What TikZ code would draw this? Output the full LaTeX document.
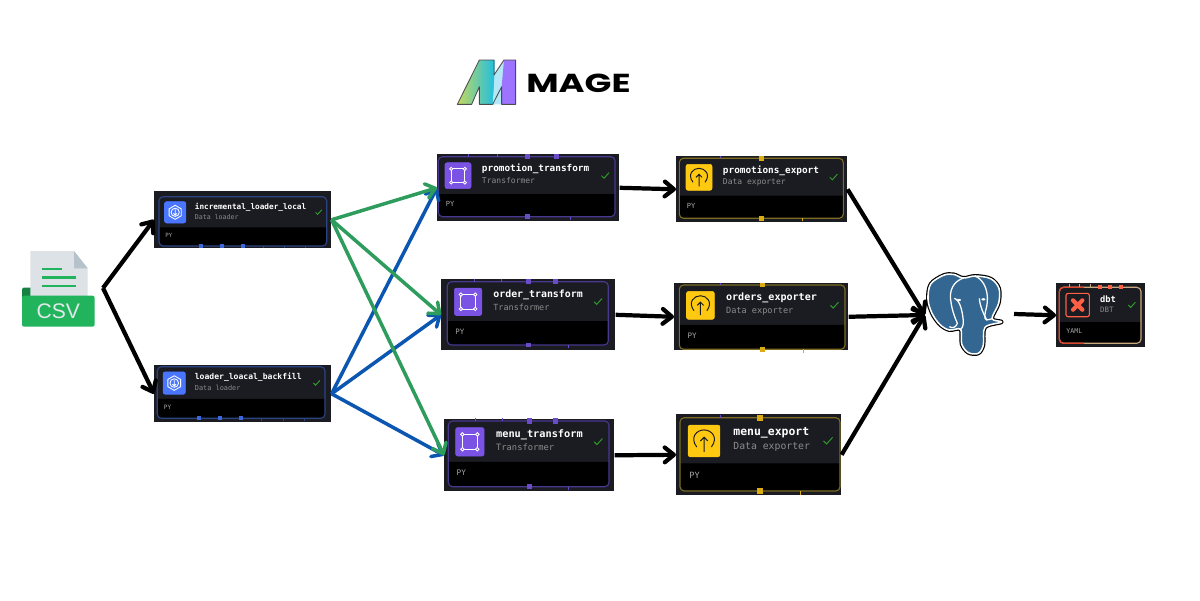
\documentclass[tikz,border=0pt]{standalone}
\usepackage{fontspec}
\usepackage{tikz}
\usepackage{xcolor}
\usetikzlibrary{arrows.meta}
\newfontfamily\blockfont{DejaVu Sans Mono}
\newfontfamily\csvfont{Liberation Sans}
\newfontfamily\magefont{Poppins}

\definecolor{framedark}{HTML}{1B1B22}
\definecolor{loaderline}{HTML}{2C4484}
\definecolor{loaderfill}{HTML}{4A76FF}
\definecolor{loaderport}{HTML}{3F66D8}
\definecolor{transformerline}{HTML}{48388E}
\definecolor{transformerfill}{HTML}{7A52E4}
\definecolor{transformerport}{HTML}{6A4BC8}
\definecolor{exporterline}{HTML}{7D6C22}
\definecolor{exporterfill}{HTML}{FFC912}
\definecolor{exporterport}{HTML}{D9AC14}
\definecolor{dbtline}{HTML}{C9A882}
\definecolor{dbtfill}{HTML}{1B1B22}
\definecolor{dbtport}{HTML}{FF5F45}
\definecolor{dbtred}{HTML}{E0432A}
\definecolor{okgreen}{HTML}{2F9A2A}
\definecolor{csvgreen}{HTML}{22B45C}
\definecolor{csvdark}{HTML}{178043}
\definecolor{paper}{HTML}{DCE2E6}
\definecolor{paperfold}{HTML}{B6C2CA}
\definecolor{csvtext}{HTML}{E2E8EA}
\definecolor{pgblue}{HTML}{336791}
\definecolor{arrowgreen}{HTML}{2E9C5C}
\definecolor{arrowblue}{HTML}{0A56B0}
\definecolor{logolime}{HTML}{C6D85E}
\definecolor{logoteal}{HTML}{1FBFE0}
\definecolor{logopale}{HTML}{B4E8F6}
\definecolor{logoviolet}{HTML}{9C74FF}

\tikzset{
    >={Straight Barb[length=6.5pt, width=10.5pt, round]},
    flow/.style={->, line width=3pt},
    greenflow/.style={->, line width=2.5pt, arrowgreen},
    blueflow/.style={->, line width=2.5pt, arrowblue},
    frame/.style={fill=framedark, inner sep=0pt},
    iconbox/.style={rounded corners=1.5pt, minimum size=26*0.025cm, inner sep=0pt},
    titletext/.style={anchor=west, inner sep=0pt, text=white, font=\blockfont\bfseries\fontsize{6.67}{8}\selectfont},
    subtext/.style={anchor=west, inner sep=0pt, text=black!45!white, font=\blockfont\fontsize{5.7}{7}\selectfont},
    langtext/.style={anchor=west, inner sep=0pt, text=black!35!white, font=\blockfont\fontsize{5}{6}\selectfont},
    glyph/.style={line width=0.6pt, white},
}

\newcommand{\mageframe}[5]{
    \node (#1) at (#2,#3) [frame, anchor=north west, minimum width=(#4-#2)*0.025cm, minimum height=(#5-#3)*0.025cm] {};
}

\newcommand{\iconloader}{
    \draw[glyph] (0,-8.5) -- (7.4,-4.2) -- (7.4,4.2) -- (0,8.5) -- (-7.4,4.2) -- (-7.4,-4.2) -- cycle;
    \draw[glyph] (0,0) circle (5);
    \draw[glyph] (0,-3.5) -- (0,3.5) (-2.2,1.3) -- (0,3.5) -- (2.2,1.3);
}
\newcommand{\icontransformer}{
    \draw[glyph] (-6.8,-6.8) rectangle (6.8,6.8);
    \foreach \cx/\cy in {-6.8/-6.8, 6.8/-6.8, 6.8/6.8, -6.8/6.8}
        \filldraw[glyph, fill=transformerfill] (\cx,\cy) circle (1.6);
}
\newcommand{\iconexporter}{
    \draw[line width=0.7pt, framedark] (-6,5) .. controls (-12,-3) and (-6,-9) .. (0,-9) .. controls (6,-9) and (12,-3) .. (6,5);
    \draw[line width=0.7pt, framedark] (0,9) -- (0,-3) (-3,0) -- (0,-3) -- (3,0);
}
\newcommand{\icondbt}{
    \draw[line width=0.8pt, dbtport, rounded corners=1.5pt] (-12.5,-12.5) rectangle (12.5,12.5);
    \draw[line width=3pt, dbtport, line cap=round] (-5,-5) -- (5,5) (5,-5) -- (-5,5);
    \fill[dbtport] (0,0) circle (3);
}

\newcommand{\portsloader}{
    \foreach \p in {0.25, 0.375, 0.5}
        \fill[loaderport] ({\p*\bw-2.5},{\bh-2.5}) rectangle +(5,5);
    \foreach \p in {0.62, 0.75, 0.875}
        \draw[loaderline, line width=0.5pt] ({\p*\bw},\bh) -- +(0,3);
}
\newcommand{\portstransformer}{
    \foreach \p in {0.17, 0.335}
        \draw[transformerport, line width=0.5pt] ({\p*\bw},0) -- +(0,-3);
    \foreach \p in {0.505, 0.67}
        \fill[transformerport] ({\p*\bw-2.3},-2.3) rectangle +(4.6,4.6);
    \fill[transformerport] ({0.505*\bw-2.3},{\bh-2.3}) rectangle +(4.6,4.6);
    \draw[transformerport, line width=0.5pt] ({0.75*\bw},\bh) -- +(0,3);
}
\newcommand{\portsexporter}{
    \draw[transformerport, line width=0.5pt] ({0.25*\bw},0) -- +(0,-2);
    \fill[exporterport] ({0.5*\bw-2.3},-2.3) rectangle +(4.6,4.6);
    \fill[exporterport] ({0.5*\bw-2.3},{\bh-2.3}) rectangle +(4.6,4.6);
    \draw[exporterport, line width=0.5pt] ({0.75*\bw},\bh) -- +(0,3);
}
\newcommand{\portsdbt}{
    \draw[dbtred, line width=0.9pt, rounded corners=3pt] ({0.3*\bw},0) -- (0,0) -- (0,\bh) -- ({0.3*\bw},\bh);
    \foreach \p in {0.12, 0.25, 0.375}
        \draw[dbtline, line width=0.5pt] ({\p*\bw},0) -- +(0,-4);
    \foreach \p in {0.5, 0.625, 0.75}
        \fill[dbtport] ({\p*\bw-2.2},-2.2) rectangle +(4.4,4.4);
}

% name, inner box x0 y0 x1 y1, kind, title, subtitle, language
\newcommand{\magebody}[9]{
    \begin{scope}[shift={(#2,#3)}, scale={(#5-#3)/60}, every node/.append style={transform shape}]
        \pgfmathsetmacro{\bw}{(#4-#2)*60/(#5-#3)}
        \def\bh{60}
        \fill[black] (0,37.3) -- (\bw,37.3) [rounded corners=3pt] -- (\bw,\bh) -- (0,\bh) [sharp corners] -- (0,37.3) -- cycle;
        \draw[#6line, line width=0.8pt, rounded corners=3pt] (0,0) rectangle (\bw,\bh);
        \csname ports#6\endcsname
        \node (#1-icon) at (19.7,19) [iconbox, fill=#6fill, draw=#6fill] {};
        \begin{scope}[shift={(19.7,19)}]
            \csname icon#6\endcsname
        \end{scope}
        \node (#1-title) at (43.4,12.3) [titletext] {#7};
        \node (#1-sub) at (43.4,24.3) [subtext] {#8};
        \node (#1-lang) at (7.4,47.3) [langtext] {#9};
        \draw[okgreen, line width=0.7pt] ({\bw-13.5},19) -- ({\bw-11},21.5) -- ({\bw-6},16);
    \end{scope}
}

\begin{document}
\begin{tikzpicture}[x=0.025cm, y=-0.025cm]
    \useasboundingbox (0,0) rectangle (1200,600);

    % csv file
    \fill[csvdark, rounded corners=1.5pt] (22,287.5) rectangle (34,300);
    \fill[paper] (30.3,251) -- (74,251) -- (87.7,268.3) -- (87.7,297) -- (30.3,297) -- cycle;
    \fill[paperfold] (74,251) -- (87.7,268.3) -- (74,268.3) -- cycle;
    \draw[csvgreen, line width=1.7pt] (41.7,269) -- (62.3,269) (41.7,277.3) -- (76.3,277.3) (41.7,285.7) -- (76.3,285.7);
    \fill[csvgreen, rounded corners=1.5pt] (22,295.7) rectangle (94.7,326.7);
    \node (csv) at (58.3,311.5) [inner sep=0pt, text=csvtext, font=\csvfont\fontsize{15}{15}\selectfont] {CSV};
    \coordinate (csvhub) at (103,288);

    % logo
    \begin{scope}[shift={(450,55)}, scale=0.3333]
        \path[left color=logolime, right color=logoteal] (22,148) -- (88,15) -- (134,15) -- (134,148) -- (88,148) -- (88,95) -- (65,148) -- cycle;
        \fill[logopale] (128,148) -- (134,60) -- (162,15) -- (162,100) -- (155,148) -- cycle;
        \fill[logoviolet] (162,15) -- (197,15) -- (197,148) -- (155,148) -- (155,95) -- cycle;
        \draw[black!70, line width=0.6pt, line join=round] (22,148) -- (88,15) -- (132,15) -- (132,60) -- (162,15) -- (197,15) -- (197,148) -- (155,148) -- (155,95) -- (128,148) -- (88,148) -- (88,95) -- (65,148) -- cycle;
    \end{scope}
    \node (magetext) at (578.5,83) [inner sep=0pt, xscale=1.355, text=black, font=\magefont\bfseries\fontsize{18.5}{18.5}\selectfont] {MAGE};

    % outer frames
    \mageframe{incr}{154}{191}{331}{248}
    \mageframe{backfill}{154}{365}{331}{422}
    \mageframe{promo}{437}{154}{619}{221}
    \mageframe{order}{441}{279}{615}{350}
    \mageframe{menu}{444}{419}{614}{491}
    \mageframe{promoexp}{676}{156}{847}{222}
    \mageframe{orderexp}{674}{283}{848}{350}
    \mageframe{menuexp}{676}{414}{841}{495}
    \mageframe{dbt}{1056}{283}{1145}{347}

    \magebody{incr}{159}{196.7}{326.7}{246}{loader}{incremental\_loader\_local}{Data loader}{PY}
    \magebody{backfill}{157.3}{366.7}{325}{418.3}{loader}{loader\_loacal\_backfill}{Data loader}{PY}
    \magebody{promo}{438.3}{156.7}{615}{216.7}{transformer}{promotion\_transform}{Transformer}{PY}
    \magebody{order}{447.3}{281.7}{608.3}{345}{transformer}{order\_transform}{Transformer}{PY}
    \magebody{menu}{448.3}{421}{609}{486.7}{transformer}{menu\_transform}{Transformer}{PY}
    \magebody{promoexp}{679.3}{158.3}{843.3}{218.3}{exporter}{promotions\_export}{Data exporter}{PY}
    \magebody{orderexp}{679.3}{285}{845}{349.3}{exporter}{orders\_exporter}{Data exporter}{PY}
    \magebody{menuexp}{680}{417.7}{840}{491}{exporter}{menu\_export}{Data exporter}{PY}
    \magebody{dbt}{1059.3}{287.3}{1141}{343.3}{dbt}{dbt}{DBT}{YAML}

    % postgres elephant
    \node (pg) at (965,315) [minimum width=80*0.025cm, minimum height=77*0.025cm, inner sep=0pt] {};
    \coordinate (pgout) at (1014,314);
    \begin{scope}[shift={(920,270)}, scale=0.3333]
        \def\pgshape{plot[smooth cycle, tension=0.55] coordinates {(70,16) (32,42) (24,88) (36,130) (60,164) (88,180) (122,178) (125,222) (145,248) (175,250) (190,225) (195,172) (245,156) (216,146) (236,100) (237,55) (212,26) (165,18) (130,24) (100,13)}}
        \draw[black, line width=2.8pt, line join=round] \pgshape;
        \draw[white, line width=1.1pt, fill=pgblue, line join=round] \pgshape;
        \draw[white, line width=0.9pt] (130,24) .. controls (100,35) and (88,60) .. (92,90) .. controls (96,125) and (108,150) .. (112,160) .. controls (108,172) and (98,176) .. (88,170);
        \draw[white, line width=0.9pt] (165,18) .. controls (195,30) and (208,70) .. (200,110) .. controls (195,130) and (190,145) .. (200,150) -- (218,146);
        \draw[white, line width=0.9pt] (103,85) .. controls (120,90) and (128,125) .. (130,155) .. controls (130,170) and (125,176) .. (122,178);
        \draw[white, line width=0.9pt] (178,85) .. controls (180,110) and (190,130) .. (200,150);
        \fill[white] (117,90) ellipse (6 and 3.5);
        \fill[white] (190,88) ellipse (6 and 3.5);
    \end{scope}

    \draw[flow] (csvhub) -- (incr.west);
    \draw[flow] (csvhub) -- (backfill.west);

    \draw[blueflow] (backfill.east) -- (promo.west);
    \draw[blueflow] (backfill.east) -- (order.west);
    \draw[blueflow] (backfill.east) -- (menu.west);
    \draw[greenflow] (incr.east) -- (promo.west);
    \draw[greenflow] (incr.east) -- (order.west);
    \draw[greenflow] (incr.east) -- (menu.west);

    \draw[flow] (promo.east) -- (promoexp.west);
    \draw[flow] (order.east) -- (orderexp.west);
    \draw[flow] (menu.east) -- (menuexp.west);

    \draw[flow] (promoexp.east) -- (pg.west);
    \draw[flow] (orderexp.east) -- (pg.west);
    \draw[flow] (menuexp.east) -- (pg.west);
    \draw[flow] (pgout) -- (dbt.west);
\end{tikzpicture}
\end{document}
